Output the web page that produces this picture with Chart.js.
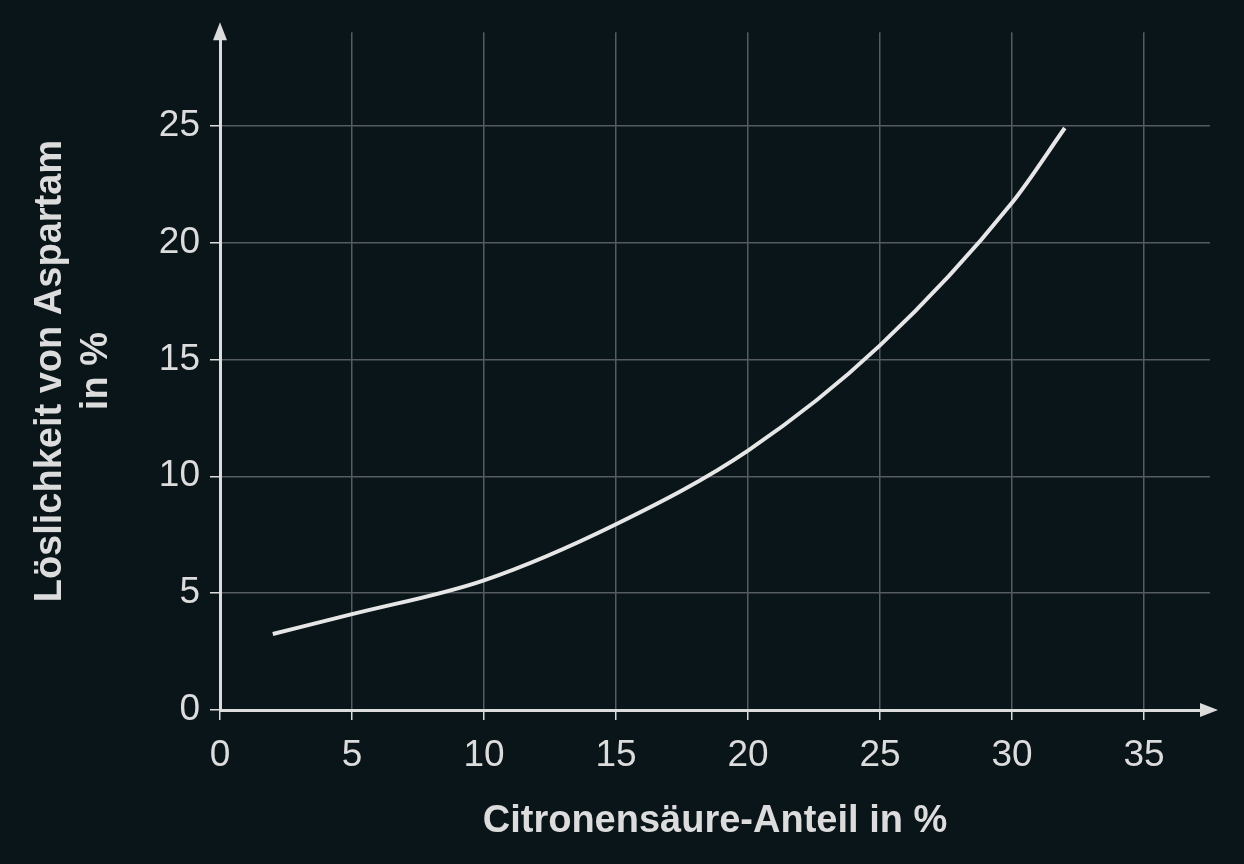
<!DOCTYPE html>
<html>
<head>
<meta charset="utf-8">
<script src="https://cdn.jsdelivr.net/npm/chart.js@4"></script>
<style>
  html, body { margin: 0; padding: 0; background: #091519; }
  #wrap { width: 1244px; height: 864px; }
</style>
</head>
<body>
<div id="wrap"><canvas id="chart"></canvas></div>
<script>
// Data
const citricAcid = [2, 5, 10, 15, 20, 25, 30, 32];
const solubility = [3.25, 4.1, 5.55, 7.95, 11.1, 15.6, 21.7, 24.9];
const tickValues = [0, 5, 10, 15, 20, 25, 30, 35];

const fg = '#dcdcdc';
const gridColor = '#555b5e';

// Draw arrowheads at the end of both axes
const arrows = {
    id: 'arrows',
    afterDraw(chart) {
        const ctx = chart.ctx;
        const a = chart.chartArea;
        ctx.save();
        ctx.fillStyle = fg;
        ctx.beginPath();
        ctx.moveTo(a.left, a.top - 10);
        ctx.lineTo(a.left - 7, a.top + 8);
        ctx.lineTo(a.left + 7, a.top + 8);
        ctx.fill();
        ctx.beginPath();
        ctx.moveTo(a.right + 8, a.bottom);
        ctx.lineTo(a.right - 10, a.bottom - 7);
        ctx.lineTo(a.right - 10, a.bottom + 7);
        ctx.fill();
        ctx.restore();
    }
};

function keepTicks(scale) {
    scale.ticks = tickValues.filter(v => v <= scale.max).map(v => ({ value: v }));
}

new Chart(document.getElementById('chart'), {
    type: 'line',
    data: {
        datasets: [{
            data: citricAcid.map((x, i) => ({ x: x, y: solubility[i] })),
            borderColor: '#e6e6e6',
            borderWidth: 4,
            pointRadius: 0,
            tension: 0.4,
            cubicInterpolationMode: 'monotone'
        }]
    },
    options: {
        responsive: true,
        maintainAspectRatio: false,
        animation: false,
        layout: { padding: { top: 22, right: 34, left: 0, bottom: 0 } },
        plugins: { legend: { display: false }, tooltip: { enabled: false } },
        scales: {
            x: {
                type: 'linear',
                min: 0,
                max: 37.5,
                afterBuildTicks: keepTicks,
                afterFit(s) { s.height = 154; },
                border: { color: fg, width: 3 },
                grid: { color: gridColor, lineWidth: 1.5, tickLength: 10, tickColor: fg },
                ticks: { color: fg, font: { family: 'Liberation Sans', size: 37 }, padding: 14 },
                title: {
                    display: true,
                    text: 'Citronensäure-Anteil in %',
                    color: fg,
                    font: { family: 'Liberation Sans', size: 38, weight: 'bold' },
                    padding: { top: 0, bottom: 20 }
                }
            },
            y: {
                type: 'linear',
                min: 0,
                max: 29,
                afterBuildTicks: keepTicks,
                afterFit(s) { s.width = 220; },
                border: { color: fg, width: 3 },
                grid: { color: gridColor, lineWidth: 1.5, tickLength: 10, tickColor: fg },
                ticks: { color: fg, font: { family: 'Liberation Sans', size: 37 }, padding: 10 },
                title: {
                    display: true,
                    text: ['Löslichkeit von Aspartam', 'in %'],
                    color: fg,
                    font: { family: 'Liberation Sans', size: 38, weight: 'bold' },
                    padding: { top: 28, bottom: 0 }
                }
            }
        }
    },
    plugins: [arrows]
});
</script>
</body>
</html>
